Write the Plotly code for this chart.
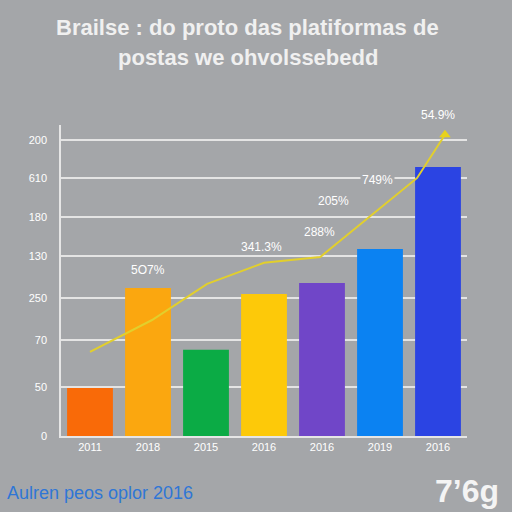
import plotly.graph_objects as go

categories = ["2011", "2018", "2015", "2016", "2016", "2019", "2016"]
bar_values = [1.14, 3.52, 2.05, 3.38, 3.64, 4.45, 6.40]
bar_colors = ["#f96a08", "#fba70f", "#0bab45", "#fdc909", "#7046c8", "#0b82f2", "#2b44e3"]

line_x = [0, 1.07, 2.02, 3.0, 3.97, 5.64, 6.12]
line_y = [2.0, 2.76, 3.62, 4.12, 4.26, 6.14, 7.17]

y_tickvals = [0, 1.17, 2.29, 3.29, 4.29, 5.21, 6.14, 7.05]
y_ticktext = ["0", "50", "70", "250", "130", "180", "610", "200"]

label_x = [1.0, 2.95, 3.95, 4.2, 4.95, 6.0]
label_y = [3.95, 4.5, 4.86, 5.6, 6.1, 7.3]
label_text = ["5O7%", "341.3%", "288%", "205%", "749%", "54.9%"]

title_lines = ["Brailse : do proto das platiformas de", "postas we ohvolssebedd"]
footer_left = "Aulren peos oplor 2016"
footer_right = "7’6g"

BG = "#a4a6a9"
fig = go.Figure()
fig.add_trace(go.Bar(x=list(range(len(categories))), y=bar_values,
                     marker=dict(color=bar_colors, line=dict(width=0)),
                     width=0.79, showlegend=False))
fig.add_trace(go.Scatter(x=line_x, y=line_y, mode="lines",
                         line=dict(color="#e2cf2c", width=2),
                         cliponaxis=False, showlegend=False))
fig.add_trace(go.Scatter(x=[line_x[-1]], y=[line_y[-1]], mode="markers",
                         marker=dict(symbol="triangle-up", size=10, color="#e8d21c"),
                         cliponaxis=False, showlegend=False))

for i, (x, y, t) in enumerate(zip(label_x, label_y, label_text)):
    fig.add_annotation(x=x, y=y, text=t, showarrow=False,
                       yshift=14 if i == len(label_text) - 1 else 0,
                       bgcolor=BG if t == "749%" else None,
                       font=dict(color="white", size=12, family="Liberation Sans"))

fig.add_annotation(xref="paper", yref="paper", x=0.46, y=1.0, yshift=98,
                   text="<b>" + title_lines[0] + "</b>", showarrow=False,
                   font=dict(color="#f0f0f0", size=22, family="Liberation Sans"),
                   xanchor="center", yanchor="middle")
fig.add_annotation(xref="paper", yref="paper", x=0.46, y=1.0, yshift=68,
                   text="<b>" + title_lines[1] + "</b>", showarrow=False,
                   font=dict(color="#f0f0f0", size=22, family="Liberation Sans"),
                   xanchor="center", yanchor="middle")
fig.add_annotation(xref="paper", yref="paper", x=-0.138, y=0, yshift=-57,
                   text=footer_left, showarrow=False, xanchor="left", yanchor="middle",
                   font=dict(color="#2f76d6", size=18, family="Liberation Sans"))
fig.add_annotation(xref="paper", yref="paper", x=1.083, y=0, yshift=-55,
                   text="<b>" + footer_right + "</b>", showarrow=False, xanchor="right",
                   yanchor="middle",
                   font=dict(color="#f4f4f4", size=32, family="Liberation Sans"))

fig.update_layout(
    width=512, height=512, paper_bgcolor=BG, plot_bgcolor=BG,
    margin=dict(l=61, r=45, t=125, b=76),
    bargap=0.21,
    xaxis=dict(range=[-0.5, 6.5], tickmode="array", tickvals=list(range(len(categories))),
               ticktext=categories, showgrid=False, showline=True, linecolor="#e6e6e6",
               linewidth=1.5, ticks="", tickfont=dict(color="white", size=11, family="Liberation Sans"),
               zeroline=False),
    yaxis=dict(range=[0, 7.4], tickmode="array", tickvals=y_tickvals, ticktext=y_ticktext,
               showgrid=True, gridcolor="#e4e4e4", gridwidth=1.5, showline=True,
               linecolor="#e6e6e6", linewidth=1.5, zeroline=False, ticks="", ticklabelstandoff=10,
               tickfont=dict(color="white", size=11, family="Liberation Sans")),
)
fig.write_html("out.html", config={"displayModeBar": False},
               post_script="document.body.style.margin='0';document.body.style.overflow='hidden';")
